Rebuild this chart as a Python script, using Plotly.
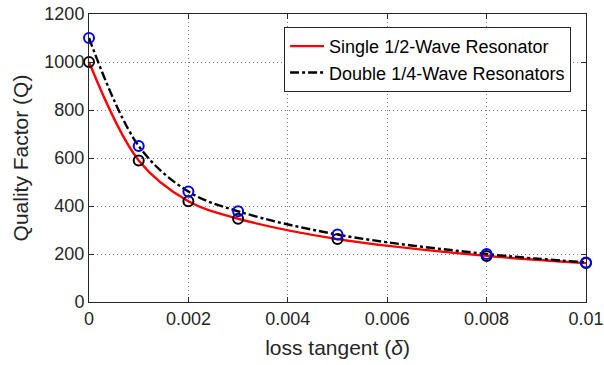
import plotly.graph_objects as go

loss_tangent = [0, 0.001, 0.002, 0.003, 0.005, 0.008, 0.01]
q_single = [1000, 590, 420, 347, 262, 192, 162]
q_double = [1100, 650, 460, 378, 281, 200, 165]

x_ticks = [0, 0.002, 0.004, 0.006, 0.008, 0.01]
x_ticktext = ["0", "0.002", "0.004", "0.006", "0.008", "0.01"]
y_ticks = [0, 200, 400, 600, 800, 1000, 1200]

FONT = "Liberation Sans, Arial"
TXT = "#262626"

fig = go.Figure()
fig.add_trace(go.Scatter(x=loss_tangent, y=q_single, mode="lines",
                         line=dict(color="#ff0000", width=2.4, shape="spline", smoothing=1.0),
                         name="Single 1/2-Wave Resonator"))
fig.add_trace(go.Scatter(x=loss_tangent, y=q_double, mode="lines",
                         line=dict(color="#000000", width=2.4, dash="dashdot", shape="spline", smoothing=1.0),
                         name="Double 1/4-Wave Resonators"))
fig.add_trace(go.Scatter(x=loss_tangent, y=q_single, mode="markers", showlegend=False, cliponaxis=False,
                         marker=dict(symbol="circle-open", size=10, color="#000000", line=dict(width=2, color="#000000"))))
fig.add_trace(go.Scatter(x=loss_tangent, y=q_double, mode="markers", showlegend=False, cliponaxis=False,
                         marker=dict(symbol="circle-open", size=10, color="#0000ff", line=dict(width=2, color="#0000ff"))))

axis_common = dict(showline=True, linecolor=TXT, linewidth=1, mirror="ticks", ticks="inside", ticklen=5,
                   tickcolor=TXT, showgrid=True, gridcolor="#7a7a7a", griddash="1px,3px", gridwidth=1,
                   zeroline=False, automargin=False, ticklabeloverflow="allow",
                   tickfont=dict(family=FONT, size=18, color=TXT))

fig.update_xaxes(range=[0, 0.01], tickvals=x_ticks, ticktext=x_ticktext,
                 title=dict(text="loss tangent (<i>δ</i>)", font=dict(family=FONT, size=21, color=TXT), standoff=12),
                 **axis_common)
fig.update_yaxes(range=[0, 1200], tickvals=y_ticks,
                 title=dict(text="Quality Factor (Q)", font=dict(family=FONT, size=21, color=TXT), standoff=10),
                 **axis_common)

fig.update_layout(width=604, height=365, margin=dict(l=89, r=18, t=14, b=63),
                  plot_bgcolor="white", paper_bgcolor="white",
                  legend=dict(x=0.97, y=0.955, xanchor="right", yanchor="top", bgcolor="white",
                              bordercolor=TXT, borderwidth=1,
                              font=dict(family=FONT, size=18, color="#000000"),
                              tracegroupgap=0, itemwidth=34))

fig.write_html("out.html", config={"displayModeBar": False},
               post_script="document.body.style.margin='0';")
